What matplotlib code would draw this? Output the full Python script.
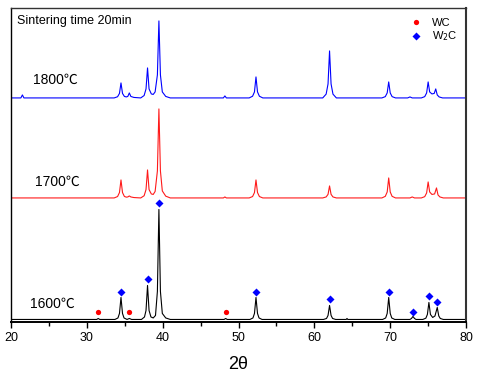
import matplotlib.pyplot as plt
from matplotlib.lines import Line2D

plt.rcParams["font.family"] = ["Liberation Sans", "DejaVu Sans"]

# 2theta / relative intensity vertices (per pattern, above its own baseline)
tt_1800 = [20, 21.3, 21.5, 21.7, 33.6, 34.05, 34.3, 34.5, 34.7, 34.95, 35.2, 35.4, 35.6, 35.8, 36.2,
           37.1, 37.55, 37.8, 38.0, 38.2, 38.5, 38.75, 39.0, 39.3, 39.5, 39.7, 39.95, 40.4, 41.0,
           48.0, 48.2, 48.4, 51.4, 51.85, 52.1, 52.3, 52.5, 52.75, 53.2,
           61.1, 61.55, 61.8, 62.0, 62.2, 62.45, 62.9, 68.9, 69.35, 69.6, 69.8, 70.0, 70.25, 70.7,
           72.3, 72.6, 72.9, 74.1, 74.55, 74.8, 75.0, 75.2, 75.5, 75.8, 76.0, 76.2, 76.45, 76.9, 80]
int_1800 = [0, 0, 3, 0, 0, 1.2, 4.5, 15, 4.5, 1.5, 1, 1.5, 5, 1.5, 0.5,
            0, 2.4, 9, 30, 9, 4, 3.5, 6, 23, 77, 23, 6, 1.5, 0,
            0, 2, 0, 0, 1.7, 6, 21, 6, 1.7, 0,
            0, 3.8, 14, 47, 14, 3.8, 0, 0, 1.3, 5, 16, 5, 1.3, 0,
            0, 1, 0, 0, 1.3, 5, 16, 6, 4, 4.5, 9, 3, 1, 0, 0]

tt_1700 = [20, 33.6, 34.05, 34.3, 34.5, 34.7, 34.95, 35.2, 35.4, 35.6, 35.8, 36.2,
           37.1, 37.55, 37.8, 38.0, 38.2, 38.5, 38.75, 39.0, 39.3, 39.5, 39.7, 39.95, 40.4, 41.0,
           48.0, 48.2, 48.4, 51.4, 51.85, 52.1, 52.3, 52.5, 52.75, 53.2,
           61.1, 61.55, 61.8, 62.0, 62.2, 62.45, 62.9, 68.9, 69.35, 69.6, 69.8, 70.0, 70.25, 70.7,
           72.6, 72.9, 73.2, 74.1, 74.55, 74.8, 75.0, 75.2, 75.5, 75.85, 76.1, 76.3, 76.55, 77.0, 80]
int_1700 = [0, 0, 1.4, 5.4, 18, 5.4, 1.5, 0.8, 1, 2, 1, 0.4,
            0, 2.2, 8.4, 28, 8.4, 4, 3.5, 6.5, 27, 89, 27, 7, 1.8, 0,
            0, 1, 0, 0, 1.4, 5.4, 18, 5.4, 1.4, 0,
            0, 1, 3.6, 12, 3.6, 1, 0, 0, 1.6, 6, 20, 6, 1.6, 0,
            0, 1, 0, 0, 1.3, 5, 16, 6, 3.5, 4, 10, 3, 1, 0, 0]

tt_1600 = [20, 31.3, 31.5, 31.7, 33.7, 34.1, 34.3, 34.5, 34.7, 34.9, 35.3, 35.6, 35.9,
           37.2, 37.6, 37.8, 38.0, 38.2, 38.45, 38.75, 39.05, 39.3, 39.5, 39.7, 39.95, 40.4, 41.0,
           48.1, 48.3, 48.5, 51.5, 51.9, 52.1, 52.3, 52.5, 52.7, 53.1,
           61.2, 61.6, 61.8, 62.0, 62.2, 62.4, 62.8, 64.2, 64.3, 64.4,
           69.0, 69.4, 69.6, 69.8, 70.0, 70.2, 70.6, 72.6, 72.8, 73.0, 73.2, 73.4,
           74.3, 74.7, 74.9, 75.1, 75.3, 75.6, 75.9, 76.2, 76.4, 76.6, 77.0, 80]
int_1600 = [0, 0, 1, 0, 0, 1.5, 6, 22, 6, 1.5, 0, 1, 0,
            0, 2.5, 9, 34, 9, 2.5, 1.5, 4, 28, 110, 28, 6, 1.5, 0,
            0, 1, 0, 0, 1.5, 6, 22, 6, 1.5, 0,
            0, 1, 4, 14, 4, 1, 0, 0, 1, 0,
            0, 1.5, 6, 22, 6, 1.5, 0, 0, 1, 3, 1, 0,
            0, 1.3, 5, 17, 5, 2, 3.5, 12, 3.5, 1, 0, 0]

# phase markers on the 1600 pattern
w2c_tt = [34.5, 38.0, 39.5, 52.3, 62.0, 69.8, 73.0, 75.1, 76.2]
w2c_y = [30, 43, 119, 30, 23, 30, 10, 26, 20]
wc_tt = [31.5, 35.6, 48.3]
wc_y = [10, 10, 10]

labels = ["1800℃", "1700℃", "1600℃"]

fig = plt.figure(figsize=(4.79, 3.77), dpi=100)
ax = fig.add_axes([0.023, 0.146, 0.950, 0.833])

ax.plot(tt_1800, [v + 224 for v in int_1800], color="#0000ff", lw=0.8)
ax.plot(tt_1700, [v + 124 for v in int_1700], color="#ff1a1a", lw=0.8)
ax.plot(tt_1600, [v + 2.5 for v in int_1600], color="black", lw=0.8)

ax.plot(wc_tt, wc_y, "o", color="red", ms=3.8, mec="none")
ax.plot(w2c_tt, w2c_y, "D", color="blue", ms=4, mec="none")

ax.set_xlim(20, 80)
ax.set_ylim(0, 314)
ax.set_yticks([])
ax.set_xticks(range(20, 81, 10))
ax.set_xticks(range(25, 80, 10), minor=True)
ax.tick_params(axis="x", which="major", direction="out", length=4, width=1, labelsize=9, pad=3)
ax.tick_params(axis="x", which="minor", direction="out", length=3, width=1)
for s in ax.spines.values():
    s.set_linewidth(1.0)
ax.spines["right"].set_linewidth(1.5)
ax.spines["right"].set_color("#333333")
ax.spines["top"].set_color("#333333")
ax.spines["bottom"].set_linewidth(1.4)

ax.set_xlabel("2θ", fontsize=13, labelpad=9)

ax.text(0.013, 0.959, "Sintering time 20min", transform=ax.transAxes,
        fontsize=9, va="center", ha="left")
cjk = ["Liberation Sans", "Noto Sans CJK SC"]
ax.text(0.048, 0.771, labels[0], transform=ax.transAxes, fontsize=10,
        va="center", ha="left", family=cjk)
ax.text(0.053, 0.446, labels[1], transform=ax.transAxes, fontsize=10,
        va="center", ha="left", family=cjk)
ax.text(0.042, 0.057, labels[2], transform=ax.transAxes, fontsize=10,
        va="center", ha="left", family=cjk)

handles = [
    Line2D([], [], ls="none", marker="o", color="red", ms=3.8, mec="none"),
    Line2D([], [], ls="none", marker="D", color="blue", ms=4, mec="none"),
]
ax.legend(handles, ["WC", "W$_2$C"], loc="upper right", frameon=False,
          fontsize=8, handlelength=1.0, handletextpad=0.9, labelspacing=0.15,
          borderaxespad=0.2, bbox_to_anchor=(0.995, 0.99))

fig.savefig("out.png", dpi=100)
